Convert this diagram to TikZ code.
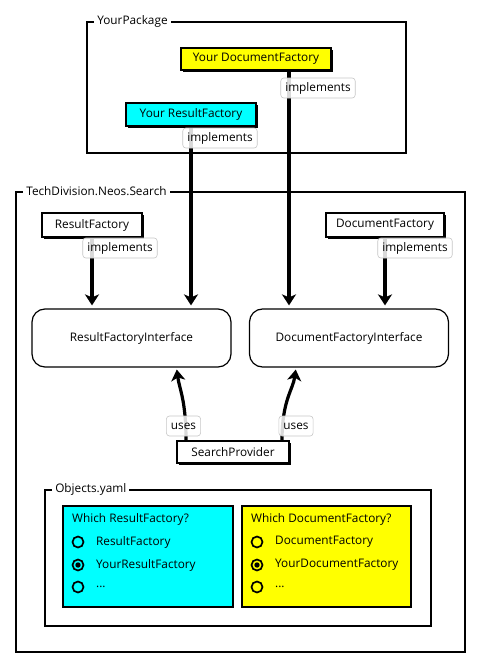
\documentclass[tikz,border=0pt]{standalone}
\usepackage{fontspec}
\setmainfont{Open Sans}
\usetikzlibrary{arrows.meta,shadows,calc}
\definecolor{bcyan}{RGB}{0,255,255}
\definecolor{byellow}{RGB}{255,255,0}
\begin{document}
\begin{tikzpicture}[x=1pt,y=-1pt, font=\fontsize{11.8}{14}\selectfont,
 box/.style={draw, line width=1.6pt, inner sep=0pt, minimum height=22pt, drop shadow={shadow xshift=2pt,shadow yshift=-2pt,fill=black,opacity=1}},
 lbl/.style={draw=black!22, line width=0.6pt, rounded corners=3pt, fill=white, fill opacity=0.85, text opacity=1, inner xsep=4.5pt, inner ysep=0pt, minimum height=20pt},
 frame/.style={draw, line width=1.8pt, inner sep=0pt},
 ftitle/.style={fill=white, inner xsep=3pt, inner ysep=1pt, anchor=west},
 iface/.style={draw, line width=1.2pt, rounded corners=13pt, minimum width=199pt, minimum height=58pt},
 arr/.style={line width=3.8pt, -{Stealth[length=11pt,width=14pt,inset=3pt]}},
 radio/.style={circle, draw, line width=1.7pt, minimum size=11pt, inner sep=0pt},
 panel/.style={draw, line width=1.6pt, inner sep=0pt},
 ptext/.style={anchor=west, inner sep=0pt},
]
\useasboundingbox[fill=white] (0,0) rectangle (481,669);

% frames
\node[frame, minimum width=319pt, minimum height=131pt] (pkg) at (246.5,87.5) {};
\node[ftitle] (pkgt) at ([xshift=8pt]pkg.north west) {YourPackage};
\node[frame, minimum width=449pt, minimum height=460pt] (tds) at (240.5,422) {};
\node[ftitle] (tdst) at ([xshift=8pt]tds.north west) {TechDivision.Neos.Search};
\node[frame, minimum width=386pt, minimum height=136pt] (obj) at (238,558) {};
\node[ftitle] (objt) at ([xshift=8pt]obj.north west) {Objects.yaml};

% boxes
\node[box, fill=byellow, minimum width=150pt] (ydf) at (256,59) {Your DocumentFactory};
\node[box, fill=bcyan, minimum width=130pt, minimum height=23pt] (yrf) at (191,114.5) {Your ResultFactory};
\node[box, fill=white, minimum width=100pt, minimum height=24pt] (rf) at (92,225) {ResultFactory};
\node[box, fill=white, minimum width=118pt, minimum height=24pt] (df) at (385,225) {DocumentFactory};
\node[iface] (rfi) at (131.5,338) {ResultFactoryInterface};
\node[iface] (dfi) at (349,338) {DocumentFactoryInterface};
\node[box, fill=white, minimum width=112pt] (sp) at (233,452) {SearchProvider};

% arrows
\draw[arr, shorten >=3pt] (yrf.south) -- (yrf.south |- rfi.north);
\draw[arr, shorten >=3pt] ([xshift=33pt]ydf.south) -- ([xshift=33pt]ydf.south |- dfi.north);
\draw[arr, shorten >=3pt] (rf.south) -- (rf.south |- rfi.north);
\draw[arr, shorten >=3pt] (df.south) -- (df.south |- dfi.north);
\draw[arr, line width=3.2pt, shorten >=2pt] ([xshift=-47pt]sp.north) .. controls +(0,-40) and +(3,22) .. ([xshift=45pt]rfi.south);
\draw[arr, line width=3.2pt, shorten >=2pt] ([xshift=49pt]sp.north) .. controls +(0,-40) and +(-3,22) .. ([xshift=-53pt]dfi.south);

% labels
\node[lbl] (l1) at (318,88) {implements};
\node[lbl] (l2) at (220,138) {implements};
\node[lbl] (l3) at (120,248) {implements};
\node[lbl] (l4) at (415,248) {implements};
\node[lbl] (u1) at (183.5,426) {uses};
\node[lbl] (u2) at (296,426) {uses};

% panels
\node[panel, fill=bcyan, minimum width=170pt, minimum height=101pt] (pc) at (148,556.5) {};
\node[panel, fill=byellow, minimum width=169pt, minimum height=101pt] (py) at (326.5,556.5) {};

\node[ptext] (qc) at (72,519) {Which ResultFactory?};
\node[radio] (c1) at (78,542) {};
\node[radio] (c2) at (78,565) {};
\node[radio] (c3) at (78,587) {};
\fill (c2.center) circle (2.7pt);
\node[ptext] (tc1) at (96,542) {ResultFactory};
\node[ptext] (tc2) at (96,565) {YourResultFactory};
\node[ptext] (tc3) at (96,587) {...};

\node[ptext] (qy) at (251,519) {Which DocumentFactory?};
\node[radio] (y1) at (257,542) {};
\node[radio] (y2) at (257,565) {};
\node[radio] (y3) at (257,587) {};
\fill (y2.center) circle (2.7pt);
\node[ptext] (ty1) at (275,542) {DocumentFactory};
\node[ptext] (ty2) at (275,565) {YourDocumentFactory};
\node[ptext] (ty3) at (275,587) {...};
\end{tikzpicture}
\end{document}
